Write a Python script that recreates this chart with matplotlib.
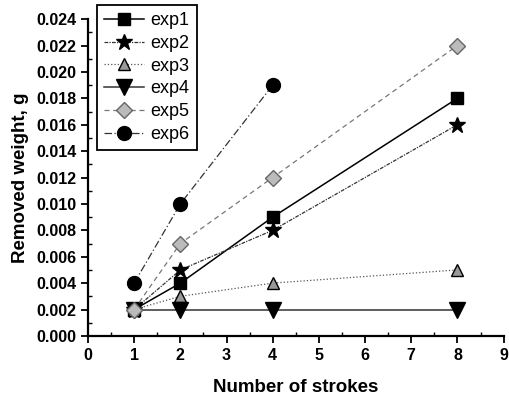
import matplotlib

matplotlib.use("Agg")
import matplotlib.pyplot as plt
from matplotlib.ticker import MultipleLocator, FormatStrFormatter

# Removed weight vs. number of strokes
strokes = [1, 2, 4, 8]
strokes_exp6 = [1, 2, 4]
exp1 = [0.002, 0.004, 0.009, 0.018]
exp2 = [0.002, 0.005, 0.008, 0.016]
exp3 = [0.002, 0.003, 0.004, 0.005]
exp4 = [0.002, 0.002, 0.002, 0.002]
exp5 = [0.002, 0.007, 0.012, 0.022]
exp6 = [0.004, 0.010, 0.019]

plt.rcParams["font.family"] = ["Liberation Sans", "DejaVu Sans"]

fig = plt.figure(figsize=(5.1, 3.98), dpi=100)
ax = fig.add_axes([0.1725, 0.156, 0.815, 0.796])

ax.plot(strokes, exp1, color="black", lw=1.1, ls="-", marker="s", ms=9,
        mfc="black", mec="black", label="exp1")
ax.plot(strokes, exp2, color="#333333", lw=0.9, ls=(0, (3, 1, 1, 1)), marker="*", ms=12,
        mfc="black", mec="black", label="exp2")
ax.plot(strokes, exp3, color="#555555", lw=0.9, ls=":", marker="^", ms=9,
        mfc="#999999", mec="black", label="exp3")
ax.plot(strokes, exp4, color="#333333", lw=1.1, ls="-", marker="v", ms=11,
        mfc="black", mec="black", label="exp4")
ax.plot(strokes, exp5, color="#777777", lw=0.9, ls=(0, (4, 3)), marker="D", ms=8,
        mfc="#bbbbbb", mec="#666666", label="exp5")
ax.plot(strokes_exp6, exp6, color="#333333", lw=0.9, ls=(0, (6, 2, 1, 2)), marker="o", ms=10,
        mfc="black", mec="black", label="exp6")

ax.set_xlim(0, 9)
ax.set_ylim(0, 0.024)
ax.xaxis.set_major_locator(MultipleLocator(1))
ax.xaxis.set_minor_locator(MultipleLocator(0.5))
ax.yaxis.set_major_locator(MultipleLocator(0.002))
ax.yaxis.set_minor_locator(MultipleLocator(0.001))
ax.yaxis.set_major_formatter(FormatStrFormatter("%.3f"))

for side in ("top", "right"):
    ax.spines[side].set_visible(False)
for side in ("left", "bottom"):
    ax.spines[side].set_linewidth(1.6)

ax.tick_params(which="major", direction="out", length=5, width=1.3, labelsize=11.5)
ax.tick_params(which="minor", direction="in", length=3, width=1.0)
for lbl in ax.get_xticklabels() + ax.get_yticklabels():
    lbl.set_fontweight("bold")

ax.set_xlabel("Number of strokes", fontsize=13.5, fontweight="bold", labelpad=12)
ax.set_ylabel("Removed weight, g", fontsize=13.5, fontweight="bold", labelpad=5)

leg = ax.legend(loc="upper left", bbox_to_anchor=(0.022, 1.045), fontsize=13,
                frameon=True, fancybox=False, edgecolor="black", framealpha=1,
                handlelength=2.2, borderpad=0.4, labelspacing=0.32, handletextpad=0.35,
                borderaxespad=0)
leg.get_frame().set_linewidth(1.3)

fig.savefig("out.png", dpi=100)
plt.close(fig)
